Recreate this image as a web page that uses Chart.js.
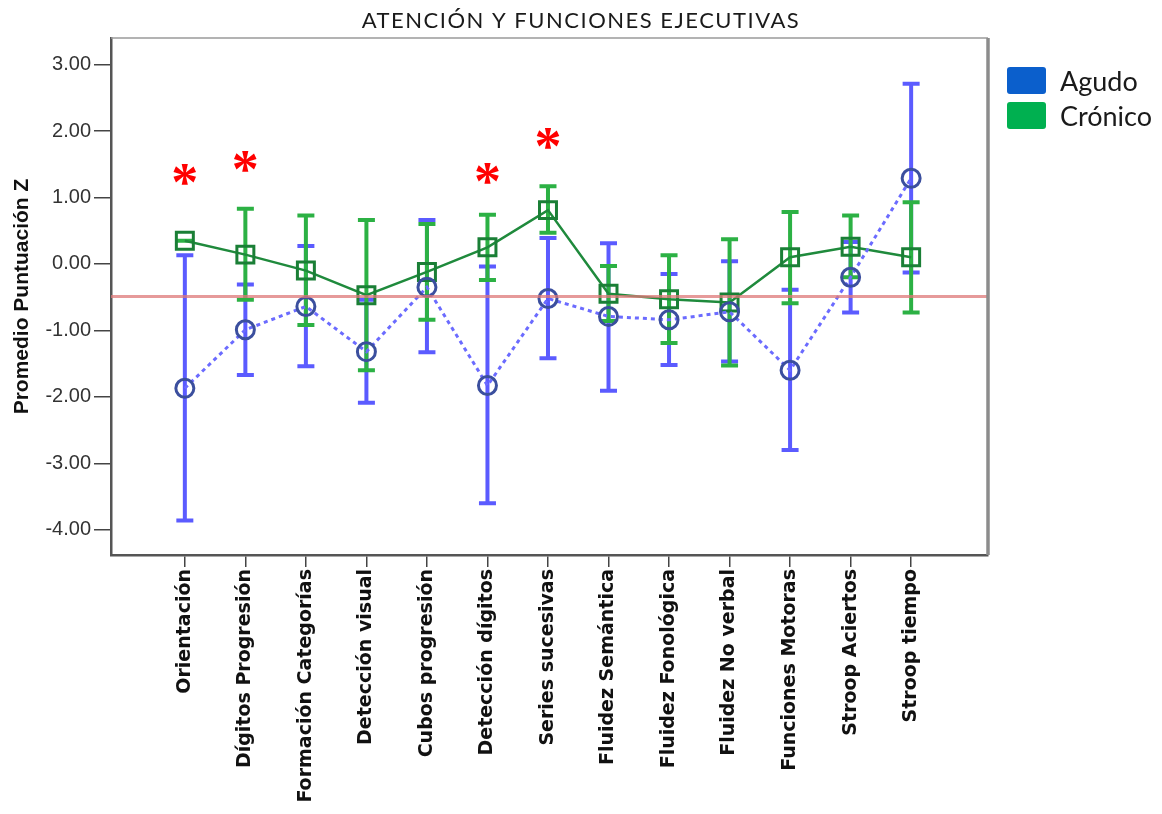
<!DOCTYPE html>
<html lang="es">
<head>
<meta charset="utf-8">
<title>Atención y funciones ejecutivas</title>
<script src="https://cdn.jsdelivr.net/npm/chart.js@4.4.1/dist/chart.umd.min.js"></script>
<style>
    html, body { margin: 0; padding: 0; background: #fff; }
    #wrap { position: relative; width: 1162px; height: 814px; }
    #legend { position: absolute; left: 1007px; top: 63px; font-family: Lato, sans-serif; font-size: 27px; color: #1a1a1a; }
    #legend div { display: flex; align-items: center; height: 35px; }
    #legend span.box { display: inline-block; width: 39px; height: 27px; border-radius: 3px; margin-right: 14px; }
</style>
</head>
<body>
<div id="wrap">
    <canvas id="chart" width="1162" height="814"></canvas>
    <div id="legend">
        <div><span class="box" style="background:#0b5fcc"></span>Agudo</div>
        <div><span class="box" style="background:#00b050"></span>Crónico</div>
    </div>
</div>
<script>
// Categories and values
const categories = ['Orientación', 'Dígitos Progresión', 'Formación Categorías', 'Detección visual',
    'Cubos progresión', 'Detección dígitos', 'Series sucesivas', 'Fluidez Semántica',
    'Fluidez Fonológica', 'Fluidez No verbal', 'Funciones Motoras', 'Stroop Aciertos', 'Stroop tiempo'];

const agudoMean = [-1.87, -0.99, -0.64, -1.32, -0.35, -1.83, -0.52, -0.79, -0.84, -0.72, -1.60, -0.20, 1.29];
const agudoHigh = [0.13, -0.31, 0.27, -0.54, 0.66, -0.04, 0.39, 0.31, -0.15, 0.04, -0.39, 0.33, 2.71];
const agudoLow = [-3.86, -1.67, -1.54, -2.09, -1.33, -3.60, -1.42, -1.91, -1.52, -1.47, -2.80, -0.73, -0.13];

const cronicoMean = [0.35, 0.14, -0.10, -0.47, -0.12, 0.25, 0.81, -0.45, -0.53, -0.58, 0.10, 0.26, 0.10];
const cronicoHigh = [0.35, 0.83, 0.73, 0.66, 0.60, 0.74, 1.17, -0.03, 0.13, 0.37, 0.78, 0.73, 0.93];
const cronicoLow = [0.35, -0.54, -0.92, -1.60, -0.84, -0.24, 0.47, -0.86, -1.19, -1.53, -0.59, -0.20, -0.73];

// significance asterisks (null = none)
const sigMarks = [1.32, 1.52, null, null, null, 1.34, 1.86, null, null, null, null, null, null];

const yTicks = [-4, -3, -2, -1, 0, 1, 2, 3];
const referenceLine = -0.49;
const chartTitle = 'ATENCIÓN Y FUNCIONES EJECUTIVAS';

document.addEventListener('DOMContentLoaded', () => {
    const ctx = document.getElementById('chart').getContext('2d');

    // error bars under the markers, reference line, asterisks, frame and title on top
    const extras = {
        id: 'extras',
        beforeDatasetsDraw(chart) {
            const { ctx, scales: { x, y } } = chart;
            const groups = [
                { low: agudoLow, high: agudoHigh, color: '#5b5bff' },
                { low: cronicoLow, high: cronicoHigh, color: '#2cb144' }
            ];
            ctx.save();
            groups.forEach(g => {
                ctx.strokeStyle = g.color;
                ctx.lineWidth = 4;
                g.low.forEach((lo, i) => {
                    if (lo === null) return;
                    const px = x.getPixelForValue(i);
                    const pLo = y.getPixelForValue(lo);
                    const pHi = y.getPixelForValue(g.high[i]);
                    ctx.beginPath();
                    ctx.moveTo(px, pLo); ctx.lineTo(px, pHi);
                    ctx.moveTo(px - 8.5, pLo); ctx.lineTo(px + 8.5, pLo);
                    ctx.moveTo(px - 8.5, pHi); ctx.lineTo(px + 8.5, pHi);
                    ctx.stroke();
                });
            });
            ctx.restore();
        },
        afterDatasetsDraw(chart) {
            const { ctx, chartArea, scales: { x, y } } = chart;
            ctx.save();
            // reference line
            const py = y.getPixelForValue(referenceLine);
            ctx.strokeStyle = 'rgba(222, 120, 120, 0.75)';
            ctx.lineWidth = 3;
            ctx.beginPath();
            ctx.moveTo(chartArea.left, py); ctx.lineTo(chartArea.right, py);
            ctx.stroke();
            // asterisks
            ctx.fillStyle = '#ff0000';
            ctx.font = 'bold 54px "Liberation Serif"';
            ctx.textAlign = 'center';
            ctx.textBaseline = 'middle';
            sigMarks.forEach((v, i) => {
                if (v === null) return;
                ctx.fillText('*', x.getPixelForValue(i), y.getPixelForValue(v) + 10);
            });
            // plot frame
            ctx.strokeStyle = '#9a9a9a';
            ctx.lineWidth = 1.5;
            ctx.beginPath();
            ctx.moveTo(chartArea.left, chartArea.top); ctx.lineTo(chartArea.right, chartArea.top);
            ctx.stroke();
            ctx.lineWidth = 3.5;
            ctx.strokeStyle = '#8c8c8c';
            ctx.beginPath();
            ctx.moveTo(chartArea.right, chartArea.top); ctx.lineTo(chartArea.right, chartArea.bottom);
            ctx.stroke();
            // title, centred on the whole picture
            ctx.fillStyle = '#1a1a1a';
            ctx.font = '22px Lato';
            ctx.letterSpacing = '1.5px';
            ctx.textBaseline = 'middle';
            ctx.fillText(chartTitle, chart.width / 2, 21);
            ctx.restore();
        }
    };

    new Chart(ctx, {
        type: 'line',
        data: {
            datasets: [
                {
                    label: 'Agudo',
                    data: agudoMean.map((v, i) => ({ x: i, y: v })),
                    borderColor: '#6b6bff',
                    borderWidth: 3,
                    borderDash: [4, 4],
                    pointStyle: 'circle',
                    pointRadius: 9,
                    pointBorderWidth: 3,
                    pointBorderColor: '#3b4f9e',
                    pointBackgroundColor: 'rgba(0,0,0,0)',
                    tension: 0
                },
                {
                    label: 'Crónico',
                    data: cronicoMean.map((v, i) => ({ x: i, y: v })),
                    borderColor: '#1f8a3c',
                    borderWidth: 2.5,
                    pointStyle: 'rect',
                    pointRadius: 12,
                    pointBorderWidth: 3,
                    pointBorderColor: '#1a7f36',
                    pointBackgroundColor: 'rgba(0,0,0,0)',
                    tension: 0
                }
            ]
        },
        options: {
            responsive: false,
            animation: false,
            layout: { padding: { left: 0, right: 174, top: 38, bottom: 0 } },
            plugins: {
                legend: { display: false },
                tooltip: { enabled: false },
                title: { display: false }
            },
            scales: {
                x: {
                    type: 'linear',
                    min: -1.22,
                    max: 13.27,
                    afterBuildTicks: scale => { scale.ticks = categories.map((_, i) => ({ value: i })); },
                    afterFit: scale => { scale.height = 259; },
                    ticks: {
                        autoSkip: false,
                        minRotation: 90,
                        maxRotation: 90,
                        padding: 2,
                        color: '#111',
                        font: { family: 'DejaVu Sans', size: 19, weight: 'bold' },
                        callback: v => categories[v]
                    },
                    grid: { drawOnChartArea: false, drawTicks: true, tickLength: 12, color: '#444', lineWidth: 1.5 },
                    border: { display: true, color: '#555', width: 2.5 }
                },
                y: {
                    min: -4.38,
                    max: 3.40,
                    afterBuildTicks: scale => { scale.ticks = yTicks.map(v => ({ value: v })); },
                    afterFit: scale => { scale.width = 111; },
                    ticks: {
                        color: '#333',
                        padding: 3,
                        font: { family: 'Liberation Sans', size: 20 },
                        callback: v => v.toFixed(2)
                    },
                    title: {
                        display: true,
                        text: 'Promedio Puntuación Z',
                        color: '#111',
                        font: { family: 'Liberation Sans', size: 21, weight: 'bold' },
                        padding: { top: 10, bottom: 0 }
                    },
                    grid: { drawOnChartArea: false, drawTicks: true, tickLength: 17, color: '#444', lineWidth: 1.5 },
                    border: { display: true, color: '#555', width: 2.5 }
                }
            }
        },
        plugins: [extras]
    });
});
</script>
</body>
</html>
